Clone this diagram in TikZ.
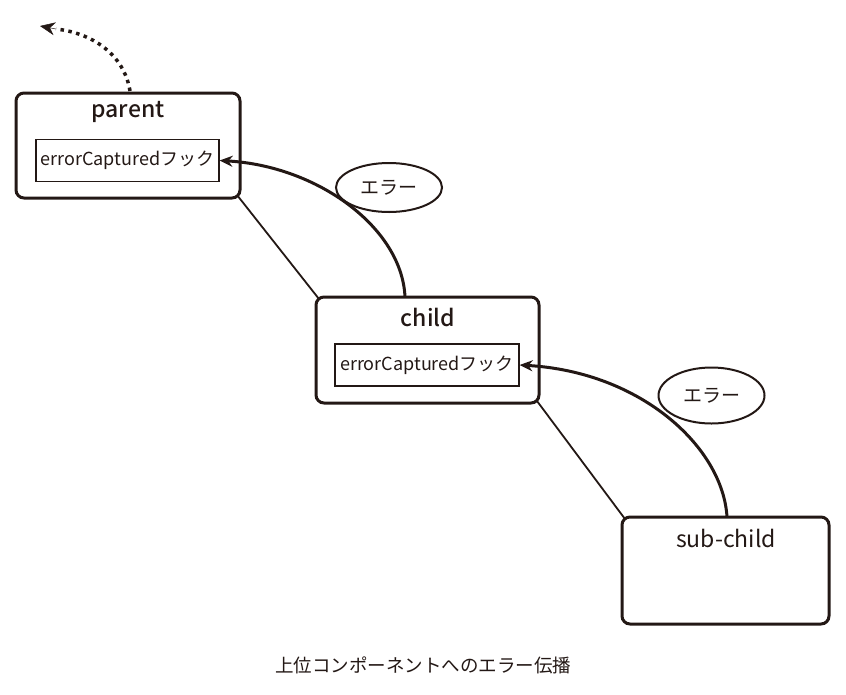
\documentclass[tikz,border=0pt]{standalone}
\usepackage{fontspec}
\setmainfont{Noto Sans CJK JP}[BoldFont={Noto Sans CJK JP Medium}]
\usetikzlibrary{arrows.meta,shapes.geometric}
\definecolor{ink}{HTML}{231815}
\begin{document}
\begin{tikzpicture}[x=1pt,y=-1pt,
  outerbox/.style={draw=ink,line width=3pt,rounded corners=8pt,minimum width=#1,inner sep=0pt},
  innerbox/.style={draw=ink,line width=1.2pt,minimum width=#1,minimum height=42pt,inner sep=0pt,font=\fontsize{18}{22}\selectfont,text=ink},
  title/.style={font=\fontsize{23}{26}\selectfont\bfseries,text=ink},
  errell/.style={draw=ink,line width=2pt,ellipse,minimum width=106pt,inner sep=0pt,font=\fontsize{19}{22}\selectfont,text=ink},
  link/.style={draw=ink,line width=1.8pt},
  prop/.style={draw=ink,line width=3pt,-{Stealth[length=13pt,width=11pt]}},
  upward/.style={draw=ink,line width=3.5pt,dash pattern=on 3.5pt off 4.5pt},
  uptip/.style={draw=ink,line width=0.5pt,-{Stealth[length=15pt,width=13pt]}}
]
\useasboundingbox (0,0) rectangle (846,694);
% boxes
\node[outerbox=224pt,minimum height=105pt] (parent) at (128,145.5) {};
\node[outerbox=223pt,minimum height=106pt] (child) at (427.5,350) {};
\node[outerbox=207pt,minimum height=107pt] (sub) at (725.5,570.5) {};
\node[title] (parentlbl) at (128,112) {parent};
\node[title] (childlbl) at (428,317) {child};
\node[font=\fontsize{23}{26}\selectfont,text=ink] (sublbl) at (726,538) {sub-child};
\node[innerbox=183pt] (pin) at (127.5,160.5) {errorCapturedフック};
\node[innerbox=184pt] (cin) at (427,365) {errorCapturedフック};
% ellipses
\node[errell,minimum height=49pt] (e1) at (389,187.5) {エラー};
\node[errell,minimum height=56pt] (e2) at (711.5,395.5) {エラー};
% thin links
\draw[link] (237,195) -- (319,299);
\draw[link] (537,401) -- (625,519);
% propagation arrows
\coordinate (c1) at (405,297);
\coordinate (c2) at (727,517);
\draw[prop] (c1) .. controls (402,228) and (318,166) .. (pin.east);
\draw[prop] (c2) .. controls (723,448) and (642,372) .. (cin.east);
% upward dotted
\coordinate (ptop) at (130,91);
\coordinate (upmid) at (56,29);
\coordinate (upend) at (40,26);
\draw[upward] (ptop) .. controls (124,54) and (92,33) .. (upmid);
\draw[uptip] (upmid) -- (upend);
% caption
\node[font=\fontsize{18.5}{22}\selectfont,text=ink] (cap) at (423,665) {上位コンポーネントへのエラー伝播};
\end{tikzpicture}
\end{document}
